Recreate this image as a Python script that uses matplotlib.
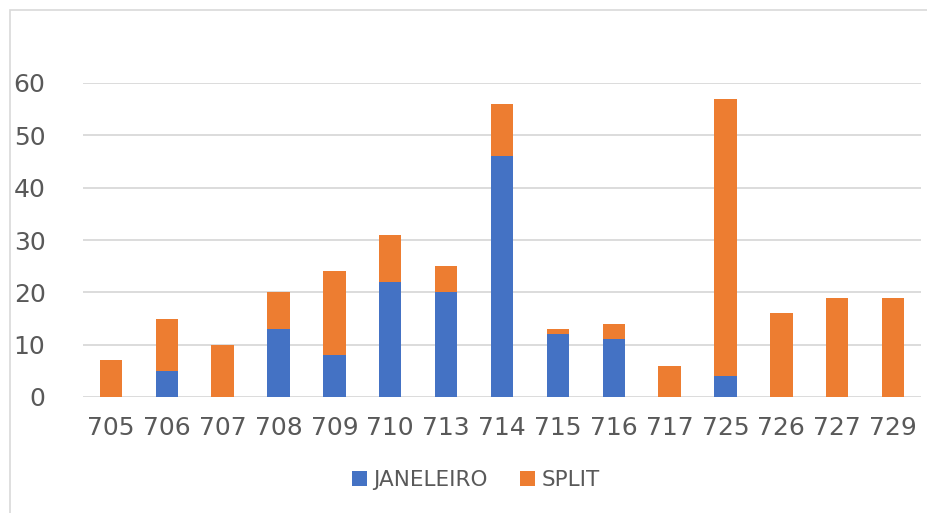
import numpy as np
import matplotlib.pyplot as plt
from matplotlib.patches import Rectangle

categories = ['705', '706', '707', '708', '709', '710', '713', '714',
              '715', '716', '717', '725', '726', '727', '729']
janeleiro = [0, 5, 0, 13, 8, 22, 20, 46, 12, 11, 0, 4, 0, 0, 0]
split = [7, 10, 10, 7, 16, 9, 5, 10, 1, 3, 6, 53, 16, 19, 19]

blue = '#4472C4'
orange = '#ED7D31'
grey_txt = '#595959'

fig = plt.figure(figsize=(9.27, 5.13), dpi=100)
ax = fig.add_axes([83 / 927, (513 - 397) / 513, (921 - 83) / 927, (397 - 83) / 513])

x = np.arange(len(categories))
ax.bar(x, janeleiro, width=0.4, color=blue, label='JANELEIRO', zorder=3)
ax.bar(x, split, width=0.4, bottom=janeleiro, color=orange, label='SPLIT', zorder=3)

ax.set_xlim(-0.5, len(categories) - 0.5)
ax.set_ylim(0, 60)
ax.set_yticks(range(0, 61, 10))
ax.set_xticks(x)
ax.set_xticklabels(categories)
ax.yaxis.grid(True, color='#d9d9d9', linewidth=1.3, zorder=0)
for s in ax.spines.values():
    s.set_visible(False)
ax.tick_params(length=0, labelsize=18, labelcolor=grey_txt)
ax.tick_params(axis='y', pad=27)
ax.tick_params(axis='x', pad=14)

leg = fig.legend(loc='center', bbox_to_anchor=(476 / 927, 33 / 513), ncol=2,
                 frameon=False, fontsize=15.5, handlelength=0.7, handleheight=0.7,
                 handletextpad=0.3, columnspacing=1.5)
for t in leg.get_texts():
    t.set_color(grey_txt)

# chart area border
fig.patches.append(Rectangle((10 / 927, -0.1), 1.2, (503 / 513) + 0.1,
                             transform=fig.transFigure, fill=False,
                             edgecolor='#d9d9d9', linewidth=1.2))

fig.savefig('out.png', dpi=100)
